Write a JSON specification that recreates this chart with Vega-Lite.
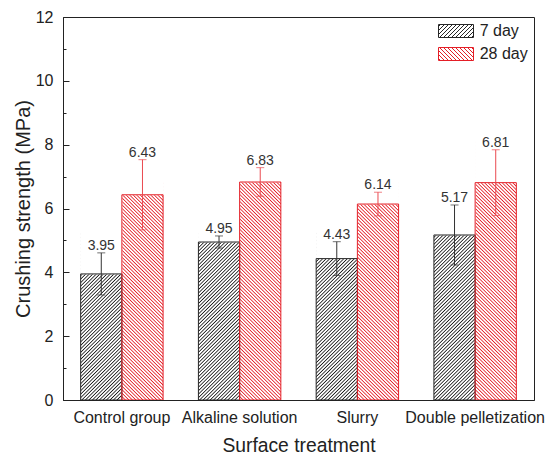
{
  "$schema": "https://vega.github.io/schema/vega-lite/v6.json",
  "width": 471,
  "height": 383,
  "autosize": "none",
  "padding": {"left": 63, "top": 17, "right": 12, "bottom": 54},
  "background": "white",
  "config": {
    "font": "Liberation Sans",
    "view": {"stroke": "#222", "strokeWidth": 1},
    "axis": {"domainColor": "#222", "domainWidth": 1, "tickColor": "#222", "tickWidth": 1, "labelColor": "#222", "titleColor": "#222", "labelFont": "Liberation Sans", "titleFont": "Liberation Sans", "labelFontSize": 16, "titleFontWeight": "normal", "grid": false, "zindex": 1},
    "legend": {"labelFont": "Liberation Sans"}
  },
  "data": {"values": [
    {"group": "Control group", "day": "7 day", "value": 3.95, "lo": 3.29, "hi": 4.61},
    {"group": "Control group", "day": "28 day", "value": 6.43, "lo": 5.33, "hi": 7.53},
    {"group": "Alkaline solution", "day": "7 day", "value": 4.95, "lo": 4.76, "hi": 5.14},
    {"group": "Alkaline solution", "day": "28 day", "value": 6.83, "lo": 6.38, "hi": 7.28},
    {"group": "Slurry", "day": "7 day", "value": 4.43, "lo": 3.9, "hi": 4.96},
    {"group": "Slurry", "day": "28 day", "value": 6.14, "lo": 5.77, "hi": 6.51},
    {"group": "Double pelletization", "day": "7 day", "value": 5.17, "lo": 4.23, "hi": 6.11},
    {"group": "Double pelletization", "day": "28 day", "value": 6.81, "lo": 5.78, "hi": 7.84}
  ]},
  "resolve": {"axis": {"x": "independent", "y": "independent"}},
  "layer": [
    {
      "transform": [{"filter": "datum.day === '7 day'"}],
      "mark": {"type": "bar", "strokeWidth": 0, "fill": {"id": "hatch7", "gradient": "linear", "x1": 0, "y1": 0.3238, "x2": 0.0833, "y2": 1.0981, "stops": [
        {"offset":0.2969,"color":"#fff"},{"offset":0.3008,"color":"#fff"},
        {"offset":0.3047,"color":"#1a1a1a"},{"offset":0.3086,"color":"#fff"},{"offset":0.3125,"color":"#fff"},
        {"offset":0.3165,"color":"#1a1a1a"},{"offset":0.3204,"color":"#fff"},{"offset":0.3243,"color":"#fff"},
        {"offset":0.3282,"color":"#1a1a1a"},{"offset":0.3321,"color":"#fff"},{"offset":0.336,"color":"#fff"},
        {"offset":0.3399,"color":"#1a1a1a"},{"offset":0.3438,"color":"#fff"},{"offset":0.3477,"color":"#fff"},
        {"offset":0.3516,"color":"#1a1a1a"},{"offset":0.3555,"color":"#fff"},{"offset":0.3594,"color":"#fff"},
        {"offset":0.3633,"color":"#1a1a1a"},{"offset":0.3672,"color":"#fff"},{"offset":0.3711,"color":"#fff"},
        {"offset":0.375,"color":"#1a1a1a"},{"offset":0.379,"color":"#fff"},{"offset":0.3829,"color":"#fff"},
        {"offset":0.3868,"color":"#1a1a1a"},{"offset":0.3907,"color":"#fff"},{"offset":0.3946,"color":"#fff"},
        {"offset":0.3985,"color":"#1a1a1a"},{"offset":0.4024,"color":"#fff"},{"offset":0.4063,"color":"#fff"},
        {"offset":0.4102,"color":"#1a1a1a"},{"offset":0.4141,"color":"#fff"},{"offset":0.418,"color":"#fff"},
        {"offset":0.4219,"color":"#1a1a1a"},{"offset":0.4258,"color":"#fff"},{"offset":0.4297,"color":"#fff"},
        {"offset":0.4336,"color":"#1a1a1a"},{"offset":0.4375,"color":"#fff"},{"offset":0.4415,"color":"#fff"},
        {"offset":0.4454,"color":"#1a1a1a"},{"offset":0.4493,"color":"#fff"},{"offset":0.4532,"color":"#fff"},
        {"offset":0.4571,"color":"#1a1a1a"},{"offset":0.461,"color":"#fff"},{"offset":0.4649,"color":"#fff"},
        {"offset":0.4688,"color":"#1a1a1a"},{"offset":0.4727,"color":"#fff"},{"offset":0.4766,"color":"#fff"},
        {"offset":0.4805,"color":"#1a1a1a"},{"offset":0.4844,"color":"#fff"},{"offset":0.4883,"color":"#fff"},
        {"offset":0.4922,"color":"#1a1a1a"},{"offset":0.4961,"color":"#fff"},{"offset":0.5,"color":"#fff"},
        {"offset":0.504,"color":"#1a1a1a"},{"offset":0.5079,"color":"#fff"},{"offset":0.5118,"color":"#fff"},
        {"offset":0.5157,"color":"#1a1a1a"},{"offset":0.5196,"color":"#fff"},{"offset":0.5235,"color":"#fff"},
        {"offset":0.5274,"color":"#1a1a1a"},{"offset":0.5313,"color":"#fff"},{"offset":0.5352,"color":"#fff"},
        {"offset":0.5391,"color":"#1a1a1a"},{"offset":0.543,"color":"#fff"},{"offset":0.5469,"color":"#fff"},
        {"offset":0.5508,"color":"#1a1a1a"},{"offset":0.5547,"color":"#fff"},{"offset":0.5586,"color":"#fff"},
        {"offset":0.5625,"color":"#1a1a1a"},{"offset":0.5665,"color":"#fff"},{"offset":0.5704,"color":"#fff"},
        {"offset":0.5743,"color":"#1a1a1a"},{"offset":0.5782,"color":"#fff"},{"offset":0.5821,"color":"#fff"},
        {"offset":0.586,"color":"#1a1a1a"},{"offset":0.5899,"color":"#fff"},{"offset":0.5938,"color":"#fff"},
        {"offset":0.5977,"color":"#1a1a1a"},{"offset":0.6016,"color":"#fff"},{"offset":0.6055,"color":"#fff"},
        {"offset":0.6094,"color":"#1a1a1a"},{"offset":0.6133,"color":"#fff"},{"offset":0.6172,"color":"#fff"},
        {"offset":0.6211,"color":"#1a1a1a"},{"offset":0.625,"color":"#fff"},{"offset":0.629,"color":"#fff"},
        {"offset":0.6329,"color":"#1a1a1a"},{"offset":0.6368,"color":"#fff"},{"offset":0.6407,"color":"#fff"},
        {"offset":0.6446,"color":"#1a1a1a"},{"offset":0.6485,"color":"#fff"},{"offset":0.6524,"color":"#fff"},
        {"offset":0.6563,"color":"#1a1a1a"},{"offset":0.6602,"color":"#fff"},{"offset":0.6641,"color":"#fff"},
        {"offset":0.668,"color":"#1a1a1a"},{"offset":0.6719,"color":"#fff"},{"offset":0.6758,"color":"#fff"},
        {"offset":0.6797,"color":"#1a1a1a"},{"offset":0.6836,"color":"#fff"},{"offset":0.6875,"color":"#fff"},
        {"offset":0.6915,"color":"#1a1a1a"},{"offset":0.6954,"color":"#fff"},{"offset":0.6993,"color":"#fff"},
        {"offset":0.7032,"color":"#1a1a1a"},{"offset":0.7071,"color":"#fff"},{"offset":0.711,"color":"#fff"},
        {"offset":0.7149,"color":"#1a1a1a"},{"offset":0.7188,"color":"#fff"},{"offset":0.7227,"color":"#fff"},
        {"offset":0.7266,"color":"#1a1a1a"},{"offset":0.7305,"color":"#fff"},{"offset":0.7344,"color":"#fff"},
        {"offset":0.7383,"color":"#1a1a1a"},{"offset":0.7422,"color":"#fff"},{"offset":0.7461,"color":"#fff"},
        {"offset":0.75,"color":"#1a1a1a"},{"offset":0.754,"color":"#fff"},{"offset":0.7579,"color":"#fff"},
        {"offset":0.7618,"color":"#1a1a1a"},{"offset":0.7657,"color":"#fff"},{"offset":0.7696,"color":"#fff"},
        {"offset":0.7735,"color":"#1a1a1a"},{"offset":0.7774,"color":"#fff"},{"offset":0.7813,"color":"#fff"},
        {"offset":0.7852,"color":"#1a1a1a"},{"offset":0.7891,"color":"#fff"},{"offset":0.793,"color":"#fff"},
        {"offset":0.7969,"color":"#1a1a1a"},{"offset":0.8008,"color":"#fff"},{"offset":0.8047,"color":"#fff"},
        {"offset":0.8086,"color":"#1a1a1a"},{"offset":0.8125,"color":"#fff"},{"offset":0.8165,"color":"#fff"},
        {"offset":0.8204,"color":"#1a1a1a"},{"offset":0.8243,"color":"#fff"},{"offset":0.8282,"color":"#fff"},
        {"offset":0.8321,"color":"#1a1a1a"},{"offset":0.836,"color":"#fff"},{"offset":0.8399,"color":"#fff"},
        {"offset":0.8438,"color":"#1a1a1a"},{"offset":0.8477,"color":"#fff"},{"offset":0.8516,"color":"#fff"},
        {"offset":0.8555,"color":"#1a1a1a"},{"offset":0.8594,"color":"#fff"},{"offset":0.8633,"color":"#fff"},
        {"offset":0.8672,"color":"#1a1a1a"},{"offset":0.8711,"color":"#fff"},{"offset":0.875,"color":"#fff"},
        {"offset":0.879,"color":"#1a1a1a"},{"offset":0.8829,"color":"#fff"},{"offset":0.8868,"color":"#fff"},
        {"offset":0.8907,"color":"#1a1a1a"},{"offset":0.8946,"color":"#fff"},{"offset":0.8985,"color":"#fff"},
        {"offset":0.9024,"color":"#1a1a1a"},{"offset":0.9063,"color":"#fff"},{"offset":0.9102,"color":"#fff"},
        {"offset":0.9141,"color":"#1a1a1a"},{"offset":0.918,"color":"#fff"},{"offset":0.9219,"color":"#fff"},
        {"offset":0.9258,"color":"#1a1a1a"},{"offset":0.9297,"color":"#fff"},{"offset":0.9336,"color":"#fff"},
        {"offset":0.9375,"color":"#1a1a1a"},{"offset":0.9415,"color":"#fff"},{"offset":0.9454,"color":"#fff"},
        {"offset":0.9493,"color":"#1a1a1a"},{"offset":0.9532,"color":"#fff"},{"offset":0.9571,"color":"#fff"},
        {"offset":0.961,"color":"#1a1a1a"},{"offset":0.9649,"color":"#fff"},{"offset":0.9688,"color":"#fff"},
        {"offset":0.9727,"color":"#1a1a1a"},{"offset":0.9766,"color":"#fff"},{"offset":0.9805,"color":"#fff"},
        {"offset":0.9844,"color":"#1a1a1a"},{"offset":0.9883,"color":"#fff"},{"offset":0.9922,"color":"#fff"}
      ]}},
      "encoding": {
        "x": {"field": "group", "type": "nominal", "sort": ["Control group", "Alkaline solution", "Slurry", "Double pelletization"], "scale": {"paddingInner": 0.3, "paddingOuter": 0.15},
              "axis": {"orient": "bottom", "ticks": false, "labelAngle": 0, "labelPadding": 9, "title": "Surface treatment", "titleFontSize": 19.3, "titlePadding": 11, "zindex": 1}},
        "xOffset": {"field": "day", "type": "nominal", "sort": ["7 day", "28 day"]},
        "y": {"datum": 0, "type": "quantitative", "scale": {"domain": [0, 12], "nice": false},
              "axis": {"orient": "left", "values": [0, 2, 4, 6, 8, 10, 12], "tickSize": -6, "labelPadding": 16, "title": "Crushing strength (MPa)", "titleFontSize": 20, "titlePadding": 2, "zindex": 1}},
        "y2": {"datum": 11.9}
      }
    },
    {
      "transform": [{"filter": "datum.day === '28 day'"}],
      "mark": {"type": "bar", "strokeWidth": 0, "fill": {"id": "hatch28", "gradient": "linear", "x1": 0, "y1": 1, "x2": 0.0833, "y2": 0.2257, "stops": [
        {"offset":0,"color":"#e41e26"},{"offset":0.004,"color":"#fff"},{"offset":0.0079,"color":"#fff"},
        {"offset":0.0118,"color":"#e41e26"},{"offset":0.0157,"color":"#fff"},{"offset":0.0196,"color":"#fff"},
        {"offset":0.0235,"color":"#e41e26"},{"offset":0.0274,"color":"#fff"},{"offset":0.0313,"color":"#fff"},
        {"offset":0.0352,"color":"#e41e26"},{"offset":0.0391,"color":"#fff"},{"offset":0.043,"color":"#fff"},
        {"offset":0.0469,"color":"#e41e26"},{"offset":0.0508,"color":"#fff"},{"offset":0.0547,"color":"#fff"},
        {"offset":0.0586,"color":"#e41e26"},{"offset":0.0625,"color":"#fff"},{"offset":0.0665,"color":"#fff"},
        {"offset":0.0704,"color":"#e41e26"},{"offset":0.0743,"color":"#fff"},{"offset":0.0782,"color":"#fff"},
        {"offset":0.0821,"color":"#e41e26"},{"offset":0.086,"color":"#fff"},{"offset":0.0899,"color":"#fff"},
        {"offset":0.0938,"color":"#e41e26"},{"offset":0.0977,"color":"#fff"},{"offset":0.1016,"color":"#fff"},
        {"offset":0.1055,"color":"#e41e26"},{"offset":0.1094,"color":"#fff"},{"offset":0.1133,"color":"#fff"},
        {"offset":0.1172,"color":"#e41e26"},{"offset":0.1211,"color":"#fff"},{"offset":0.125,"color":"#fff"},
        {"offset":0.129,"color":"#e41e26"},{"offset":0.1329,"color":"#fff"},{"offset":0.1368,"color":"#fff"},
        {"offset":0.1407,"color":"#e41e26"},{"offset":0.1446,"color":"#fff"},{"offset":0.1485,"color":"#fff"},
        {"offset":0.1524,"color":"#e41e26"},{"offset":0.1563,"color":"#fff"},{"offset":0.1602,"color":"#fff"},
        {"offset":0.1641,"color":"#e41e26"},{"offset":0.168,"color":"#fff"},{"offset":0.1719,"color":"#fff"},
        {"offset":0.1758,"color":"#e41e26"},{"offset":0.1797,"color":"#fff"},{"offset":0.1836,"color":"#fff"},
        {"offset":0.1875,"color":"#e41e26"},{"offset":0.1915,"color":"#fff"},{"offset":0.1954,"color":"#fff"},
        {"offset":0.1993,"color":"#e41e26"},{"offset":0.2032,"color":"#fff"},{"offset":0.2071,"color":"#fff"},
        {"offset":0.211,"color":"#e41e26"},{"offset":0.2149,"color":"#fff"},{"offset":0.2188,"color":"#fff"},
        {"offset":0.2227,"color":"#e41e26"},{"offset":0.2266,"color":"#fff"},{"offset":0.2305,"color":"#fff"},
        {"offset":0.2344,"color":"#e41e26"},{"offset":0.2383,"color":"#fff"},{"offset":0.2422,"color":"#fff"},
        {"offset":0.2461,"color":"#e41e26"},{"offset":0.25,"color":"#fff"},{"offset":0.254,"color":"#fff"},
        {"offset":0.2579,"color":"#e41e26"},{"offset":0.2618,"color":"#fff"},{"offset":0.2657,"color":"#fff"},
        {"offset":0.2696,"color":"#e41e26"},{"offset":0.2735,"color":"#fff"},{"offset":0.2774,"color":"#fff"},
        {"offset":0.2813,"color":"#e41e26"},{"offset":0.2852,"color":"#fff"},{"offset":0.2891,"color":"#fff"},
        {"offset":0.293,"color":"#e41e26"},{"offset":0.2969,"color":"#fff"},{"offset":0.3008,"color":"#fff"},
        {"offset":0.3047,"color":"#e41e26"},{"offset":0.3086,"color":"#fff"},{"offset":0.3125,"color":"#fff"},
        {"offset":0.3165,"color":"#e41e26"},{"offset":0.3204,"color":"#fff"},{"offset":0.3243,"color":"#fff"},
        {"offset":0.3282,"color":"#e41e26"},{"offset":0.3321,"color":"#fff"},{"offset":0.336,"color":"#fff"},
        {"offset":0.3399,"color":"#e41e26"},{"offset":0.3438,"color":"#fff"},{"offset":0.3477,"color":"#fff"},
        {"offset":0.3516,"color":"#e41e26"},{"offset":0.3555,"color":"#fff"},{"offset":0.3594,"color":"#fff"},
        {"offset":0.3633,"color":"#e41e26"},{"offset":0.3672,"color":"#fff"},{"offset":0.3711,"color":"#fff"},
        {"offset":0.375,"color":"#e41e26"},{"offset":0.379,"color":"#fff"},{"offset":0.3829,"color":"#fff"},
        {"offset":0.3868,"color":"#e41e26"},{"offset":0.3907,"color":"#fff"},{"offset":0.3946,"color":"#fff"},
        {"offset":0.3985,"color":"#e41e26"},{"offset":0.4024,"color":"#fff"},{"offset":0.4063,"color":"#fff"},
        {"offset":0.4102,"color":"#e41e26"},{"offset":0.4141,"color":"#fff"},{"offset":0.418,"color":"#fff"},
        {"offset":0.4219,"color":"#e41e26"},{"offset":0.4258,"color":"#fff"},{"offset":0.4297,"color":"#fff"},
        {"offset":0.4336,"color":"#e41e26"},{"offset":0.4375,"color":"#fff"},{"offset":0.4415,"color":"#fff"},
        {"offset":0.4454,"color":"#e41e26"},{"offset":0.4493,"color":"#fff"},{"offset":0.4532,"color":"#fff"},
        {"offset":0.4571,"color":"#e41e26"},{"offset":0.461,"color":"#fff"},{"offset":0.4649,"color":"#fff"},
        {"offset":0.4688,"color":"#e41e26"},{"offset":0.4727,"color":"#fff"},{"offset":0.4766,"color":"#fff"},
        {"offset":0.4805,"color":"#e41e26"},{"offset":0.4844,"color":"#fff"},{"offset":0.4883,"color":"#fff"},
        {"offset":0.4922,"color":"#e41e26"},{"offset":0.4961,"color":"#fff"},{"offset":0.5,"color":"#fff"},
        {"offset":0.504,"color":"#e41e26"},{"offset":0.5079,"color":"#fff"},{"offset":0.5118,"color":"#fff"},
        {"offset":0.5157,"color":"#e41e26"},{"offset":0.5196,"color":"#fff"},{"offset":0.5235,"color":"#fff"},
        {"offset":0.5274,"color":"#e41e26"},{"offset":0.5313,"color":"#fff"},{"offset":0.5352,"color":"#fff"},
        {"offset":0.5391,"color":"#e41e26"},{"offset":0.543,"color":"#fff"},{"offset":0.5469,"color":"#fff"},
        {"offset":0.5508,"color":"#e41e26"},{"offset":0.5547,"color":"#fff"},{"offset":0.5586,"color":"#fff"},
        {"offset":0.5625,"color":"#e41e26"},{"offset":0.5665,"color":"#fff"},{"offset":0.5704,"color":"#fff"},
        {"offset":0.5743,"color":"#e41e26"},{"offset":0.5782,"color":"#fff"},{"offset":0.5821,"color":"#fff"},
        {"offset":0.586,"color":"#e41e26"},{"offset":0.5899,"color":"#fff"},{"offset":0.5938,"color":"#fff"},
        {"offset":0.5977,"color":"#e41e26"},{"offset":0.6016,"color":"#fff"},{"offset":0.6055,"color":"#fff"},
        {"offset":0.6094,"color":"#e41e26"},{"offset":0.6133,"color":"#fff"},{"offset":0.6172,"color":"#fff"},
        {"offset":0.6211,"color":"#e41e26"},{"offset":0.625,"color":"#fff"},{"offset":0.629,"color":"#fff"},
        {"offset":0.6329,"color":"#e41e26"},{"offset":0.6368,"color":"#fff"},{"offset":0.6407,"color":"#fff"},
        {"offset":0.6446,"color":"#e41e26"},{"offset":0.6485,"color":"#fff"},{"offset":0.6524,"color":"#fff"},
        {"offset":0.6563,"color":"#e41e26"},{"offset":0.6602,"color":"#fff"},{"offset":0.6641,"color":"#fff"},
        {"offset":0.668,"color":"#e41e26"},{"offset":0.6719,"color":"#fff"},{"offset":0.6758,"color":"#fff"},
        {"offset":0.6797,"color":"#e41e26"},{"offset":0.6836,"color":"#fff"},{"offset":0.6875,"color":"#fff"},
        {"offset":0.6915,"color":"#e41e26"},{"offset":0.6954,"color":"#fff"},{"offset":0.6993,"color":"#fff"},
        {"offset":0.7032,"color":"#e41e26"},{"offset":0.7071,"color":"#fff"},{"offset":0.711,"color":"#fff"},
        {"offset":0.7149,"color":"#e41e26"},{"offset":0.7188,"color":"#fff"},{"offset":0.7227,"color":"#fff"},
        {"offset":0.7266,"color":"#e41e26"},{"offset":0.7305,"color":"#fff"},{"offset":0.7344,"color":"#fff"},
        {"offset":0.7383,"color":"#e41e26"},{"offset":0.7422,"color":"#fff"},{"offset":0.7461,"color":"#fff"},
        {"offset":0.75,"color":"#e41e26"},{"offset":0.754,"color":"#fff"},{"offset":0.7579,"color":"#fff"},
        {"offset":0.7618,"color":"#e41e26"},{"offset":0.7657,"color":"#fff"},{"offset":0.7696,"color":"#fff"},
        {"offset":0.7735,"color":"#e41e26"},{"offset":0.7774,"color":"#fff"},{"offset":0.7813,"color":"#fff"},
        {"offset":0.7852,"color":"#e41e26"},{"offset":0.7891,"color":"#fff"},{"offset":0.793,"color":"#fff"},
        {"offset":0.7969,"color":"#e41e26"},{"offset":0.8008,"color":"#fff"},{"offset":0.8047,"color":"#fff"},
        {"offset":0.8086,"color":"#e41e26"},{"offset":0.8125,"color":"#fff"},{"offset":0.8165,"color":"#fff"},
        {"offset":0.8204,"color":"#e41e26"},{"offset":0.8243,"color":"#fff"},{"offset":0.8282,"color":"#fff"},
        {"offset":0.8321,"color":"#e41e26"},{"offset":0.836,"color":"#fff"},{"offset":0.8399,"color":"#fff"},
        {"offset":0.8438,"color":"#e41e26"},{"offset":0.8477,"color":"#fff"},{"offset":0.8516,"color":"#fff"},
        {"offset":0.8555,"color":"#e41e26"},{"offset":0.8594,"color":"#fff"},{"offset":0.8633,"color":"#fff"},
        {"offset":0.8672,"color":"#e41e26"},{"offset":0.8711,"color":"#fff"},{"offset":0.875,"color":"#fff"}
      ]}},
      "encoding": {
        "x": {"field": "group", "type": "nominal", "sort": ["Control group", "Alkaline solution", "Slurry", "Double pelletization"], "axis": null},
        "xOffset": {"field": "day", "type": "nominal", "sort": ["7 day", "28 day"]},
        "y": {"datum": 0, "type": "quantitative", "scale": {"domain": [0, 12], "nice": false},
              "axis": {"orient": "left", "values": [1, 3, 5, 7, 9, 11], "tickSize": -3, "labels": false, "domain": false, "title": null, "zindex": 1}},
        "y2": {"datum": 11.9}
      }
    },
    {
      "mark": {"type": "bar", "fill": "white", "stroke": "white", "strokeWidth": 1},
      "encoding": {
        "x": {"field": "group", "type": "nominal", "sort": ["Control group", "Alkaline solution", "Slurry", "Double pelletization"], "axis": null},
        "xOffset": {"field": "day", "type": "nominal", "sort": ["7 day", "28 day"]},
        "y": {"field": "value", "type": "quantitative", "axis": null},
        "y2": {"datum": 11.9}
      }
    },
    {
      "mark": {"type": "bar", "filled": false, "strokeWidth": 1},
      "encoding": {
        "x": {"field": "group", "type": "nominal", "sort": ["Control group", "Alkaline solution", "Slurry", "Double pelletization"], "axis": null},
        "xOffset": {"field": "day", "type": "nominal", "sort": ["7 day", "28 day"]},
        "y": {"field": "value", "type": "quantitative", "axis": null},
        "stroke": {"field": "day", "type": "nominal", "sort": ["7 day", "28 day"], "scale": {"domain": ["7 day", "28 day"], "range": ["#262626", "#e41e26"]},
          "legend": {"title": null, "orient": "top-right", "offset": 6, "padding": 0,
            "symbolType": {"expr": "datum.value === '7 day' ? 'M-17.5,-6.5H17.5V6.5H-17.5Z M-17.5,-4.5L-15.5,-6.5 M-17.5,-0.5L-11.5,-6.5 M-17.5,3.5L-7.5,-6.5 M-16.5,6.5L-3.5,-6.5 M-12.5,6.5L0.5,-6.5 M-8.5,6.5L4.5,-6.5 M-4.5,6.5L8.5,-6.5 M-0.5,6.5L12.5,-6.5 M3.5,6.5L16.5,-6.5 M7.5,6.5L17.5,-3.5 M11.5,6.5L17.5,0.5 M15.5,6.5L17.5,4.5' : 'M-17.5,-6.5H17.5V6.5H-17.5Z M-17.5,4.5L-15.5,6.5 M-17.5,0.5L-11.5,6.5 M-17.5,-3.5L-7.5,6.5 M-16.5,-6.5L-3.5,6.5 M-12.5,-6.5L0.5,6.5 M-8.5,-6.5L4.5,6.5 M-4.5,-6.5L8.5,6.5 M-0.5,-6.5L12.5,6.5 M3.5,-6.5L16.5,6.5 M7.5,-6.5L17.5,3.5 M11.5,-6.5L17.5,-0.5 M15.5,-6.5L17.5,-4.5'"},
            "symbolSize": 4, "symbolStrokeWidth": 1, "symbolFillColor": "white", "labelFontSize": 16, "labelColor": "#222", "labelOffset": 15.7, "rowPadding": 5}}
      }
    },
    {
      "mark": {"type": "rule", "strokeWidth": 1},
      "encoding": {
        "x": {"field": "group", "type": "nominal", "sort": ["Control group", "Alkaline solution", "Slurry", "Double pelletization"], "axis": null},
        "xOffset": {"field": "day", "type": "nominal", "sort": ["7 day", "28 day"]},
        "y": {"field": "lo", "type": "quantitative", "axis": null},
        "y2": {"field": "hi"},
        "color": {"condition": {"test": "datum.day === '7 day'", "value": "#333"}, "value": "#ea4a50"}
      }
    },
    {
      "mark": {"type": "tick", "size": 8, "thickness": 1},
      "encoding": {
        "x": {"field": "group", "type": "nominal", "sort": ["Control group", "Alkaline solution", "Slurry", "Double pelletization"], "axis": null},
        "xOffset": {"field": "day", "type": "nominal", "sort": ["7 day", "28 day"]},
        "y": {"field": "hi", "type": "quantitative", "axis": null},
        "color": {"condition": {"test": "datum.day === '7 day'", "value": "#333"}, "value": "#ea4a50"}
      }
    },
    {
      "mark": {"type": "tick", "size": 8, "thickness": 1},
      "encoding": {
        "x": {"field": "group", "type": "nominal", "sort": ["Control group", "Alkaline solution", "Slurry", "Double pelletization"], "axis": null},
        "xOffset": {"field": "day", "type": "nominal", "sort": ["7 day", "28 day"]},
        "y": {"field": "lo", "type": "quantitative", "axis": null},
        "color": {"condition": {"test": "datum.day === '7 day'", "value": "#333"}, "value": "#ea4a50"}
      }
    },
    {
      "mark": {"type": "text", "fontSize": 14, "font": "Liberation Sans", "color": "#333", "baseline": "alphabetic", "dy": -3},
      "encoding": {
        "x": {"field": "group", "type": "nominal", "sort": ["Control group", "Alkaline solution", "Slurry", "Double pelletization"], "axis": null},
        "xOffset": {"field": "day", "type": "nominal", "sort": ["7 day", "28 day"]},
        "y": {"field": "hi", "type": "quantitative", "axis": null},
        "text": {"field": "value", "type": "quantitative", "format": ".2f"}
      }
    }
  ]
}
